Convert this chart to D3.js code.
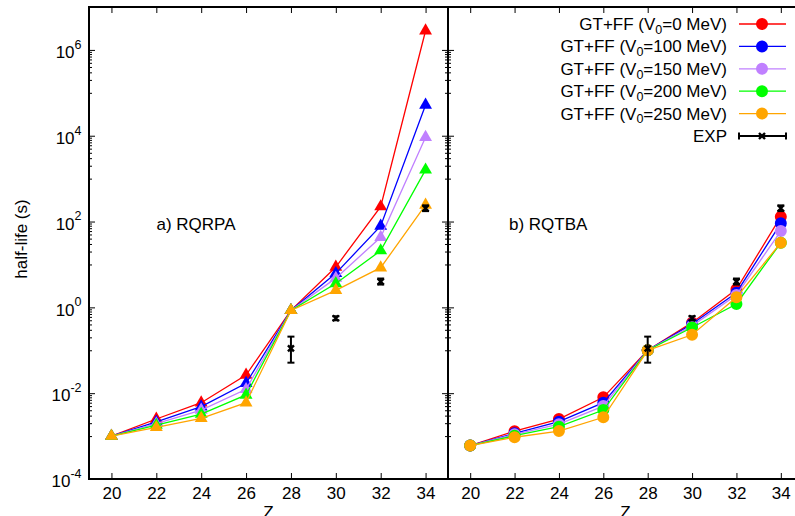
<!DOCTYPE html>
<html><head><meta charset="utf-8">
<script src="https://cdn.jsdelivr.net/npm/d3@7"></script>
<style>
body{margin:0;background:#fff;overflow:hidden}
svg{display:block}
text{font-family:"Liberation Sans",Arial,Helvetica,sans-serif;fill:#000}
</style>
</head><body>
<svg id="c" width="795" height="516"></svg>
<script>
// ---------------- data ----------------
const Z = [20, 22, 24, 26, 28, 30, 32, 34];
const xTicks = [20, 22, 24, 26, 28, 30, 32, 34];
const yMajorExp = [-4, -2, 0, 2, 4, 6];

const seriesLabels = ["0", "100", "150", "200", "250"];
const seriesColors = ["#ff0000", "#0000ff", "#c080ff", "#00ff00", "#ffa500"];

// a) RQRPA
const rqrpaV0   = [1.0e-3, 2.5e-3,  6.0e-3,  2.65e-2, 0.85, 8.7, 223, 2.8e6];
const rqrpaV100 = [1.0e-3, 2.15e-3, 4.85e-3, 1.7e-2,  0.85, 6.2, 79,  5.2e4];
const rqrpaV150 = [1.0e-3, 1.95e-3, 4.05e-3, 1.23e-2, 0.85, 4.8, 43,  9.2e3];
const rqrpaV200 = [1.0e-3, 1.8e-3,  3.25e-3, 9.1e-3,  0.85, 3.6, 21,  1.6e3];
const rqrpaV250 = [1.0e-3, 1.6e-3,  2.6e-3,  6.0e-3,  0.85, 2.5, 8.4, 244];

// b) RQTBA
const rqtbaV0   = [6.0e-4, 1.3e-3,  2.5e-3,  8.0e-3,  0.1, 0.44, 2.64, 130];
const rqtbaV100 = [6.0e-4, 1.16e-3, 2.17e-3, 6.0e-3,  0.1, 0.41, 2.2,  91];
const rqtbaV150 = [6.0e-4, 1.1e-3,  1.9e-3,  5.0e-3,  0.1, 0.37, 1.95, 60];
const rqtbaV200 = [6.0e-4, 1.02e-3, 1.66e-3, 4.05e-3, 0.1, 0.34, 1.2,  32];
const rqtbaV250 = [6.0e-4, 0.94e-3, 1.31e-3, 2.74e-3, 0.1, 0.23, 1.72, 32];

// experiment
const expZ  = [28, 30, 32, 34];
const expT  = [0.111, 0.557, 4.0, 204];
const expLo = [0.0514, 0.50, 3.4, 175];
const expHi = [0.208, 0.62, 4.7, 238];

// ---------------- layout ----------------
const svg = d3.select("#c");
const FS = 17;
const yTop = 7, yBot = 479;
const y = d3.scaleLog().domain([1e-4, 1e7]).range([yBot, yTop]);
const xL = d3.scaleLinear().domain([19, 35]).range([89, 448]);
const xR = d3.scaleLinear().domain([19, 35]).range([448, 803]);

// minor log ticks: m * 10^k for odd k
const minorVals = [];
[-3, -1, 1, 3, 5].forEach(k => { for (let m = 1; m <= 9; m++) minorVals.push(m * Math.pow(10, k)); });
const majorVals = yMajorExp.map(e => Math.pow(10, e));

function cleanAxis(g) {
  g.select(".domain").remove();
  g.selectAll("line").attr("stroke", "#000").attr("stroke-width", 1);
}

function panelTicks(x) {
  const [x0, x1] = x.range();
  const gb = svg.append("g").attr("transform", `translate(0,${yBot})`)
    .call(d3.axisBottom(x).tickValues(xTicks).tickSizeInner(-6).tickSizeOuter(0).tickPadding(8).tickFormat(d3.format("d")));
  cleanAxis(gb);
  gb.selectAll("text").style("font-size", FS + "px").attr("fill", "#000");
  const gt = svg.append("g").attr("transform", `translate(0,${yTop})`)
    .call(d3.axisTop(x).tickValues(xTicks).tickSizeInner(-6).tickSizeOuter(0).tickFormat(""));
  cleanAxis(gt);
  const gl = svg.append("g").attr("transform", `translate(${x0},0)`)
    .call(d3.axisRight(y).tickValues(majorVals).tickSizeInner(6).tickSizeOuter(0).tickFormat(""));
  cleanAxis(gl);
  const gm = svg.append("g").attr("transform", `translate(${x0},0)`)
    .call(d3.axisRight(y).tickValues(minorVals).tickSizeInner(3).tickSizeOuter(0).tickFormat(""));
  cleanAxis(gm);
  const gr = svg.append("g").attr("transform", `translate(${x1},0)`)
    .call(d3.axisLeft(y).tickValues(majorVals).tickSizeInner(6).tickSizeOuter(0).tickFormat(""));
  cleanAxis(gr);
  const grm = svg.append("g").attr("transform", `translate(${x1},0)`)
    .call(d3.axisLeft(y).tickValues(minorVals).tickSizeInner(3).tickSizeOuter(0).tickFormat(""));
  cleanAxis(grm);
  svg.append("text").attr("x", (x0 + x1) / 2).attr("y", 517.5).attr("text-anchor", "middle")
    .style("font-size", FS + "px").text("Z");
}

panelTicks(xL);
panelTicks(xR);

// y tick labels with superscript exponents
const gy = svg.append("g").attr("transform", `translate(${xL.range()[0]},0)`)
  .call(d3.axisLeft(y).tickValues(majorVals).tickSize(0).tickPadding(7.5).tickFormat(""));
gy.select(".domain").remove();
gy.selectAll(".tick text").each(function(d) {
  const t = d3.select(this).attr("dy", "0.45em").style("font-size", FS + "px").attr("fill", "#000");
  t.append("tspan").text("10");
  t.append("tspan").attr("dy", "-0.75em").style("font-size", "12.5px").text(String(Math.round(Math.log10(d))));
});

// y title
svg.append("text").attr("transform", "translate(26.5,239) rotate(-90)").attr("text-anchor", "middle")
  .style("font-size", FS + "px").text("half-life (s)");

// ---------------- data marks ----------------
function drawSeries(x, dataArr, symbolType, size) {
  dataArr.forEach((vals, i) => {
    const pts = Z.map((z, j) => [x(z), y(vals[j])]);
    svg.append("path").attr("d", d3.line()(pts)).attr("fill", "none")
      .attr("stroke", seriesColors[i]).attr("stroke-width", 1.3);
    svg.append("g").selectAll("path").data(pts).join("path")
      .attr("transform", p => `translate(${p[0]},${p[1]})`)
      .attr("d", d3.symbol().type(symbolType).size(size)())
      .attr("fill", seriesColors[i]);
  });
}

function drawExp(x) {
  const g = svg.append("g").attr("stroke", "#000").attr("stroke-width", 2).attr("fill", "none");
  expZ.forEach((z, j) => {
    const cx = x(z), cy = y(expT[j]), ylo = y(expLo[j]), yhi = y(expHi[j]);
    g.append("line").attr("x1", cx).attr("x2", cx).attr("y1", ylo).attr("y2", yhi);
    g.append("line").attr("x1", cx - 3.5).attr("x2", cx + 3.5).attr("y1", ylo).attr("y2", ylo);
    g.append("line").attr("x1", cx - 3.5).attr("x2", cx + 3.5).attr("y1", yhi).attr("y2", yhi);
    g.append("path").attr("stroke-width", 2.4)
      .attr("d", `M${cx-3},${cy-3}L${cx+3},${cy+3}M${cx-3},${cy+3}L${cx+3},${cy-3}`);
  });
}

drawSeries(xL, [rqrpaV0, rqrpaV100, rqrpaV150, rqrpaV200, rqrpaV250], d3.symbolTriangle, 72);
drawExp(xL);
drawSeries(xR, [rqtbaV0, rqtbaV100, rqtbaV150, rqtbaV200, rqtbaV250], d3.symbolCircle, 113);
drawExp(xR);

// panel labels
svg.append("text").attr("x", 156.5).attr("y", 230).style("font-size", FS + "px").text("a) RQRPA");
svg.append("text").attr("x", 509).attr("y", 230).style("font-size", FS + "px").text("b) RQTBA");

// borders
svg.append("rect").attr("x", 89).attr("y", yTop).attr("width", 803 - 89).attr("height", yBot - yTop)
  .attr("fill", "none").attr("stroke", "#000").attr("stroke-width", 2);
svg.append("line").attr("x1", 448).attr("x2", 448).attr("y1", yTop).attr("y2", yBot)
  .attr("stroke", "#000").attr("stroke-width", 2);

// ---------------- legend ----------------
const legRow0 = 24, legStep = 22.4, legTextX = 727, legL0 = 739, legL1 = 786, legM = 762;
seriesLabels.forEach((lab, i) => {
  const yy = legRow0 + i * legStep;
  const t = svg.append("text").attr("x", legTextX).attr("y", yy + 6).attr("text-anchor", "end")
    .style("font-size", FS + "px");
  t.append("tspan").text("GT+FF (V");
  t.append("tspan").attr("dy", "0.3em").style("font-size", "12.5px").text("0");
  t.append("tspan").attr("dy", "-0.22em").text(`=${lab} MeV)`);
  svg.append("line").attr("x1", legL0).attr("x2", legL1).attr("y1", yy).attr("y2", yy)
    .attr("stroke", seriesColors[i]).attr("stroke-width", 1.3);
  svg.append("path").attr("transform", `translate(${legM},${yy})`)
    .attr("d", d3.symbol().type(d3.symbolCircle).size(113)()).attr("fill", seriesColors[i]);
});
{
  const yy = legRow0 + 5 * legStep;
  svg.append("text").attr("x", legTextX).attr("y", yy + 6).attr("text-anchor", "end")
    .style("font-size", FS + "px").text("EXP");
  const g = svg.append("g").attr("stroke", "#000").attr("stroke-width", 2).attr("fill", "none");
  g.append("line").attr("x1", legL0).attr("x2", legL1).attr("y1", yy).attr("y2", yy);
  g.append("line").attr("x1", legL0).attr("x2", legL0).attr("y1", yy - 3.5).attr("y2", yy + 3.5);
  g.append("line").attr("x1", legL1).attr("x2", legL1).attr("y1", yy - 3.5).attr("y2", yy + 3.5);
  g.append("path").attr("stroke-width", 2.4)
    .attr("d", `M${legM-3},${yy-3}L${legM+3},${yy+3}M${legM-3},${yy+3}L${legM+3},${yy-3}`);
}
</script>
</body></html>
